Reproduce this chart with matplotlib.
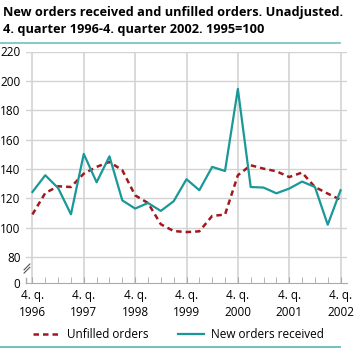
import matplotlib
matplotlib.use("Agg")
import matplotlib.pyplot as plt
from matplotlib.lines import Line2D
import numpy as np

# quarters 4. q. 1996 ... 4. q. 2002
quarters = list(range(25))
year_labels = ["4. q.\n1996", "4. q.\n1997", "4. q.\n1998", "4. q.\n1999",
               "4. q.\n2000", "4. q.\n2001", "4. q.\n2002"]

unfilled = [109, 123.6, 128.2, 127.7, 136.8, 141.4, 144.8, 139.1, 122, 116.8,
            102.3, 97.7, 97, 97.5, 108, 108.9, 135.7, 142.5, 140.2, 138.4,
            134.5, 137.5, 127.7, 123.2, 119]
new_orders = [124.3, 135.7, 127, 109.1, 150.2, 130.9, 148.6, 118.6, 113, 116.8,
              111.4, 118, 133, 125.5, 141.4, 138.6, 194.5, 127.7, 127.3, 123.4,
              126.6, 131.4, 127.7, 102, 125.5]

RED = "#a0191e"
TEAL = "#1a9898"
GRID = "#d3d3d3"

plt.rcParams["font.family"] = ["Open Sans", "DejaVu Sans"]

fig = plt.figure(figsize=(3.57, 3.48), dpi=100)
ax = fig.add_axes([26 / 357, 65 / 348, 321 / 357, 231.5 / 348])

# broken y axis: 0..80 squeezed into a short band
k = 17.7 / 80
def fwd(v):
    v = np.asarray(v, dtype=float)
    return np.where(v >= 80, v, 80 - (80 - v) * k)
def inv(y):
    y = np.asarray(y, dtype=float)
    return np.where(y >= 80, y, 80 - (80 - y) / k)
ax.set_yscale("function", functions=(fwd, inv))
ax.set_ylim(0, 220)
ax.set_xlim(-0.5, 24.5)

ax.set_yticks([0, 80, 100, 120, 140, 160, 180, 200, 220])
ax.set_yticklabels(["0", "80", "100", "120", "140", "160", "180", "200", "220"])
for v in range(80, 221, 20):
    ax.axhline(v, color=GRID, lw=1, zorder=0)
for q in range(0, 25, 4):
    ax.axvline(q, color=GRID, lw=1.2, zorder=0)

ax.set_xticks(range(0, 25, 4))
ax.set_xticklabels(year_labels, linespacing=1.45)
ax.set_xticks(quarters, minor=True)
ax.tick_params(axis="x", which="both", direction="in", length=4, color="#aaaaaa",
               labelsize=8.5, pad=4)
ax.tick_params(axis="y", length=0, labelsize=8.5, pad=4)
for s in ["top", "right", "left"]:
    ax.spines[s].set_visible(False)
ax.spines["bottom"].set_color("#aaaaaa")

ax.plot(quarters, unfilled, color=RED, lw=1.8, ls=(0, (2.2, 1.6)),
        label="Unfilled orders", zorder=3)
ax.plot(quarters, new_orders, color=TEAL, lw=1.6, label="New orders received",
        zorder=4)

# short axis stub and break marks
ax.plot([0, 0], [0, 0.02], transform=ax.transAxes, color="#aaaaaa", lw=1,
        clip_on=False)
for dy in (0.0, 0.014):
    ax.plot([-0.006, 0.012], [0.043 + dy, 0.068 + dy], transform=ax.transAxes,
            color="#555555", lw=0.8, clip_on=False)

fig.text(0.008, 0.955, "New orders received and unfilled orders. Unadjusted.",
         fontsize=9.2, fontweight="bold", va="baseline")
fig.text(0.008, 0.904, "4. quarter 1996-4. quarter 2002. 1995=100",
         fontsize=9.2, fontweight="bold", va="baseline")
fig.add_artist(Line2D([0, 340 / 357], [1 - 43 / 348] * 2, color="#6fc0c0", lw=1.2))
fig.add_artist(Line2D([0, 340 / 357], [1 - 346.5 / 348] * 2, color="#6fc0c0", lw=1.4))

handles = [Line2D([], [], color=RED, lw=1.8, ls=(0, (2.2, 1.6))),
           Line2D([], [], color=TEAL, lw=1.6)]
fig.legend(handles, ["Unfilled orders", "New orders received"], loc="center",
           bbox_to_anchor=(0.5, 1 - 335 / 348), ncol=2, frameon=False,
           fontsize=8.5, handlelength=2.2, columnspacing=2.5, handletextpad=0.6)

fig.savefig("out.png", dpi=100)
